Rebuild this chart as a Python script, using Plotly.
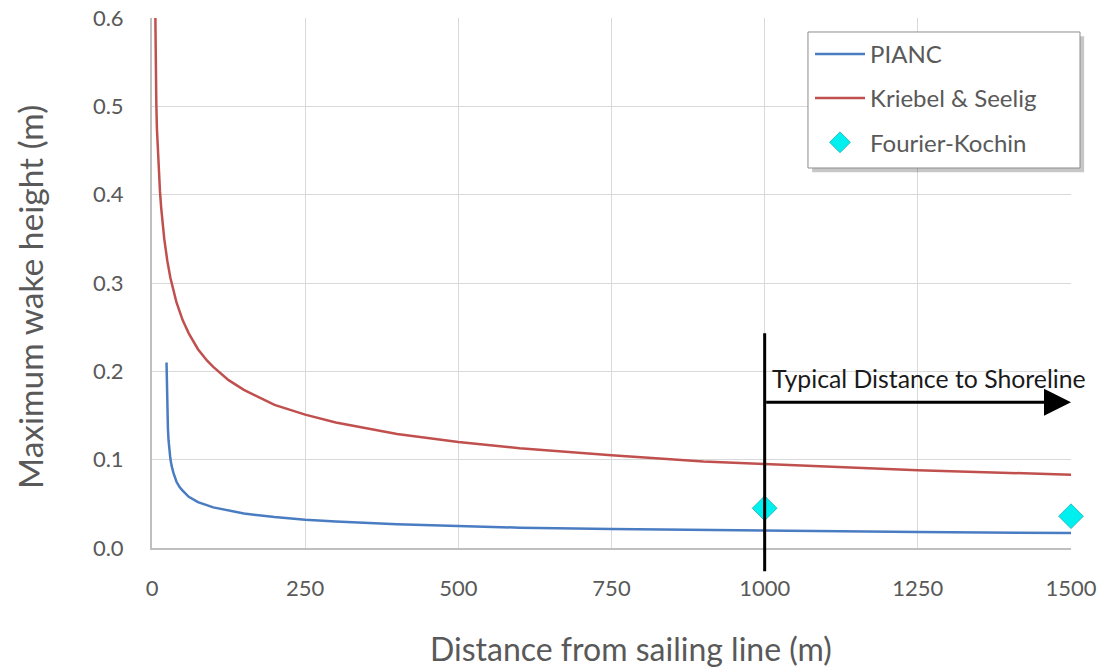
import plotly.graph_objects as go

# ---- data ----
pianc_x = [23.7, 24, 24.5, 25, 26, 27, 28, 30, 32, 35, 40, 45, 50, 60, 75, 100, 150, 200, 250, 300,
           400, 500, 600, 750, 1000, 1250, 1500]
pianc_y = [0.210, 0.194, 0.170, 0.154, 0.135, 0.122, 0.113, 0.101, 0.093, 0.085, 0.075, 0.069, 0.065,
           0.058, 0.052, 0.046, 0.039, 0.035, 0.032, 0.030, 0.027, 0.025, 0.023, 0.0216, 0.0196,
           0.0181, 0.017]

ks_x = [5.5, 6, 7, 8, 10, 13, 15, 20, 25, 30, 40, 50, 60, 75, 90, 100, 125, 150, 200, 250, 300, 400,
        500, 600, 750, 900, 1000, 1250, 1500]
ks_y = [0.600, 0.545, 0.505, 0.475, 0.441, 0.404, 0.385, 0.350, 0.325, 0.306, 0.278, 0.258,
        0.243, 0.225, 0.212, 0.205, 0.190, 0.179, 0.162, 0.151, 0.142, 0.129, 0.120, 0.113, 0.105,
        0.098, 0.095, 0.088, 0.083]

fk_x = [1000, 1500]
fk_y = [0.045, 0.036]

x_ticks = [0, 250, 500, 750, 1000, 1250, 1500]
y_ticks = [0.0, 0.1, 0.2, 0.3, 0.4, 0.5, 0.6]

shore_x = 1000          # start of "typical distance to shoreline"
shore_arrow_end = 1500
shore_arrow_y = 0.165
shore_line_top = 0.243
shore_line_bottom = -0.028
shore_text_y = 0.192

# legend frame (paper fractions)
LEG_X0, LEG_X1, LEG_Y0, LEG_Y1 = 0.7138, 1.0098, 0.717, 0.9736
SHADOW_DX, SHADOW_DY = 0.0045, 0.008

# axis title positions (paper fractions)
XTITLE_X, XTITLE_Y = 0.521, -0.1887
YTITLE_X, YTITLE_Y = -0.1328, 0.4736

FONT = "Lato"
GREY = "#595959"

fig = go.Figure()
fig.add_trace(go.Scatter(x=pianc_x, y=pianc_y, mode="lines", name="PIANC",
                         legendgroup="a",
                         line=dict(color="#4a7cc2", width=2.5)))
fig.add_trace(go.Scatter(x=ks_x, y=ks_y, mode="lines", name="Kriebel & Seelig",
                         legendgroup="b",
                         line=dict(color="#c0504d", width=2.5)))
fig.add_trace(go.Scatter(x=fk_x, y=fk_y, mode="markers", name="Fourier-Kochin",
                         legendgroup="c", cliponaxis=False,
                         marker=dict(symbol="diamond", size=19, color="#00f0f0",
                                     line=dict(color="#2bbcbc", width=1))))

# legend frame with shadow
fig.add_shape(type="rect", xref="paper", yref="paper",
              x0=LEG_X0 + SHADOW_DX, x1=LEG_X1 + SHADOW_DX,
              y0=LEG_Y0 - SHADOW_DY, y1=LEG_Y1 - SHADOW_DY,
              fillcolor="rgba(0,0,0,0.22)", line=dict(width=0), layer="above")
fig.add_shape(type="rect", xref="paper", yref="paper",
              x0=LEG_X0, x1=LEG_X1, y0=LEG_Y0, y1=LEG_Y1,
              fillcolor="white", line=dict(color="#8c8c8c", width=1), layer="above")

# vertical marker line at shoreline distance (extends below axis)
fig.add_annotation(x=shore_x, y=shore_line_top, ax=shore_x, ay=shore_line_bottom,
                   xref="x", yref="y", axref="x", ayref="y",
                   showarrow=True, arrowhead=0, arrowwidth=3, arrowcolor="black", text="")
# horizontal arrow
fig.add_annotation(x=shore_arrow_end, y=shore_arrow_y, ax=shore_x, ay=shore_arrow_y,
                   xref="x", yref="y", axref="x", ayref="y",
                   showarrow=True, arrowhead=2, arrowwidth=3, arrowsize=1.8,
                   arrowcolor="black", text="")
fig.add_annotation(x=shore_x, y=shore_text_y, xref="x", yref="y", showarrow=False,
                   text="Typical Distance to Shoreline", xanchor="left", yanchor="middle",
                   xshift=5, font=dict(family=FONT, size=24.8, color="#1a1a1a"))

# axis titles
fig.add_annotation(x=XTITLE_X, y=XTITLE_Y, xref="paper", yref="paper", showarrow=False,
                   text="Distance from sailing line (m)", xanchor="center", yanchor="middle",
                   font=dict(family=FONT, size=32, color=GREY))
fig.add_annotation(x=YTITLE_X, y=YTITLE_Y, xref="paper", yref="paper", showarrow=False,
                   text="Maximum wake height (m)", textangle=-90,
                   xanchor="center", yanchor="middle",
                   font=dict(family=FONT, size=33.5, color=GREY))

fig.update_layout(
    width=1107, height=668,
    margin=dict(l=152, r=36, t=18, b=120),
    paper_bgcolor="white", plot_bgcolor="white",
    font=dict(family=FONT, color=GREY),
    showlegend=True,
    legend=dict(x=0.716, y=0.974, xanchor="left", yanchor="top",
                bgcolor="rgba(0,0,0,0)", borderwidth=0,
                font=dict(family=FONT, size=24, color=GREY),
                tracegroupgap=10, itemwidth=50),
    xaxis=dict(range=[0, 1500], tickvals=x_ticks, ticktext=[str(v) for v in x_ticks],
               showgrid=True, gridcolor="#d9d9d9", gridwidth=1,
               showline=True, linecolor="#bfbfbf", linewidth=2,
               ticks="", zeroline=False, ticklabelstandoff=20, automargin=False,
               tickfont=dict(family=FONT, size=22, color=GREY)),
    yaxis=dict(range=[0, 0.6], tickvals=y_ticks, ticktext=[f"{v:.1f}" for v in y_ticks],
               showgrid=True, gridcolor="#d9d9d9", gridwidth=1,
               showline=True, linecolor="#bfbfbf", linewidth=2,
               ticks="", zeroline=False, ticklabelstandoff=22, automargin=False,
               tickfont=dict(family=FONT, size=22, color=GREY)),
)

fig.write_html("out.html", config={"displayModeBar": False},
               post_script="document.body.style.margin='0';")
